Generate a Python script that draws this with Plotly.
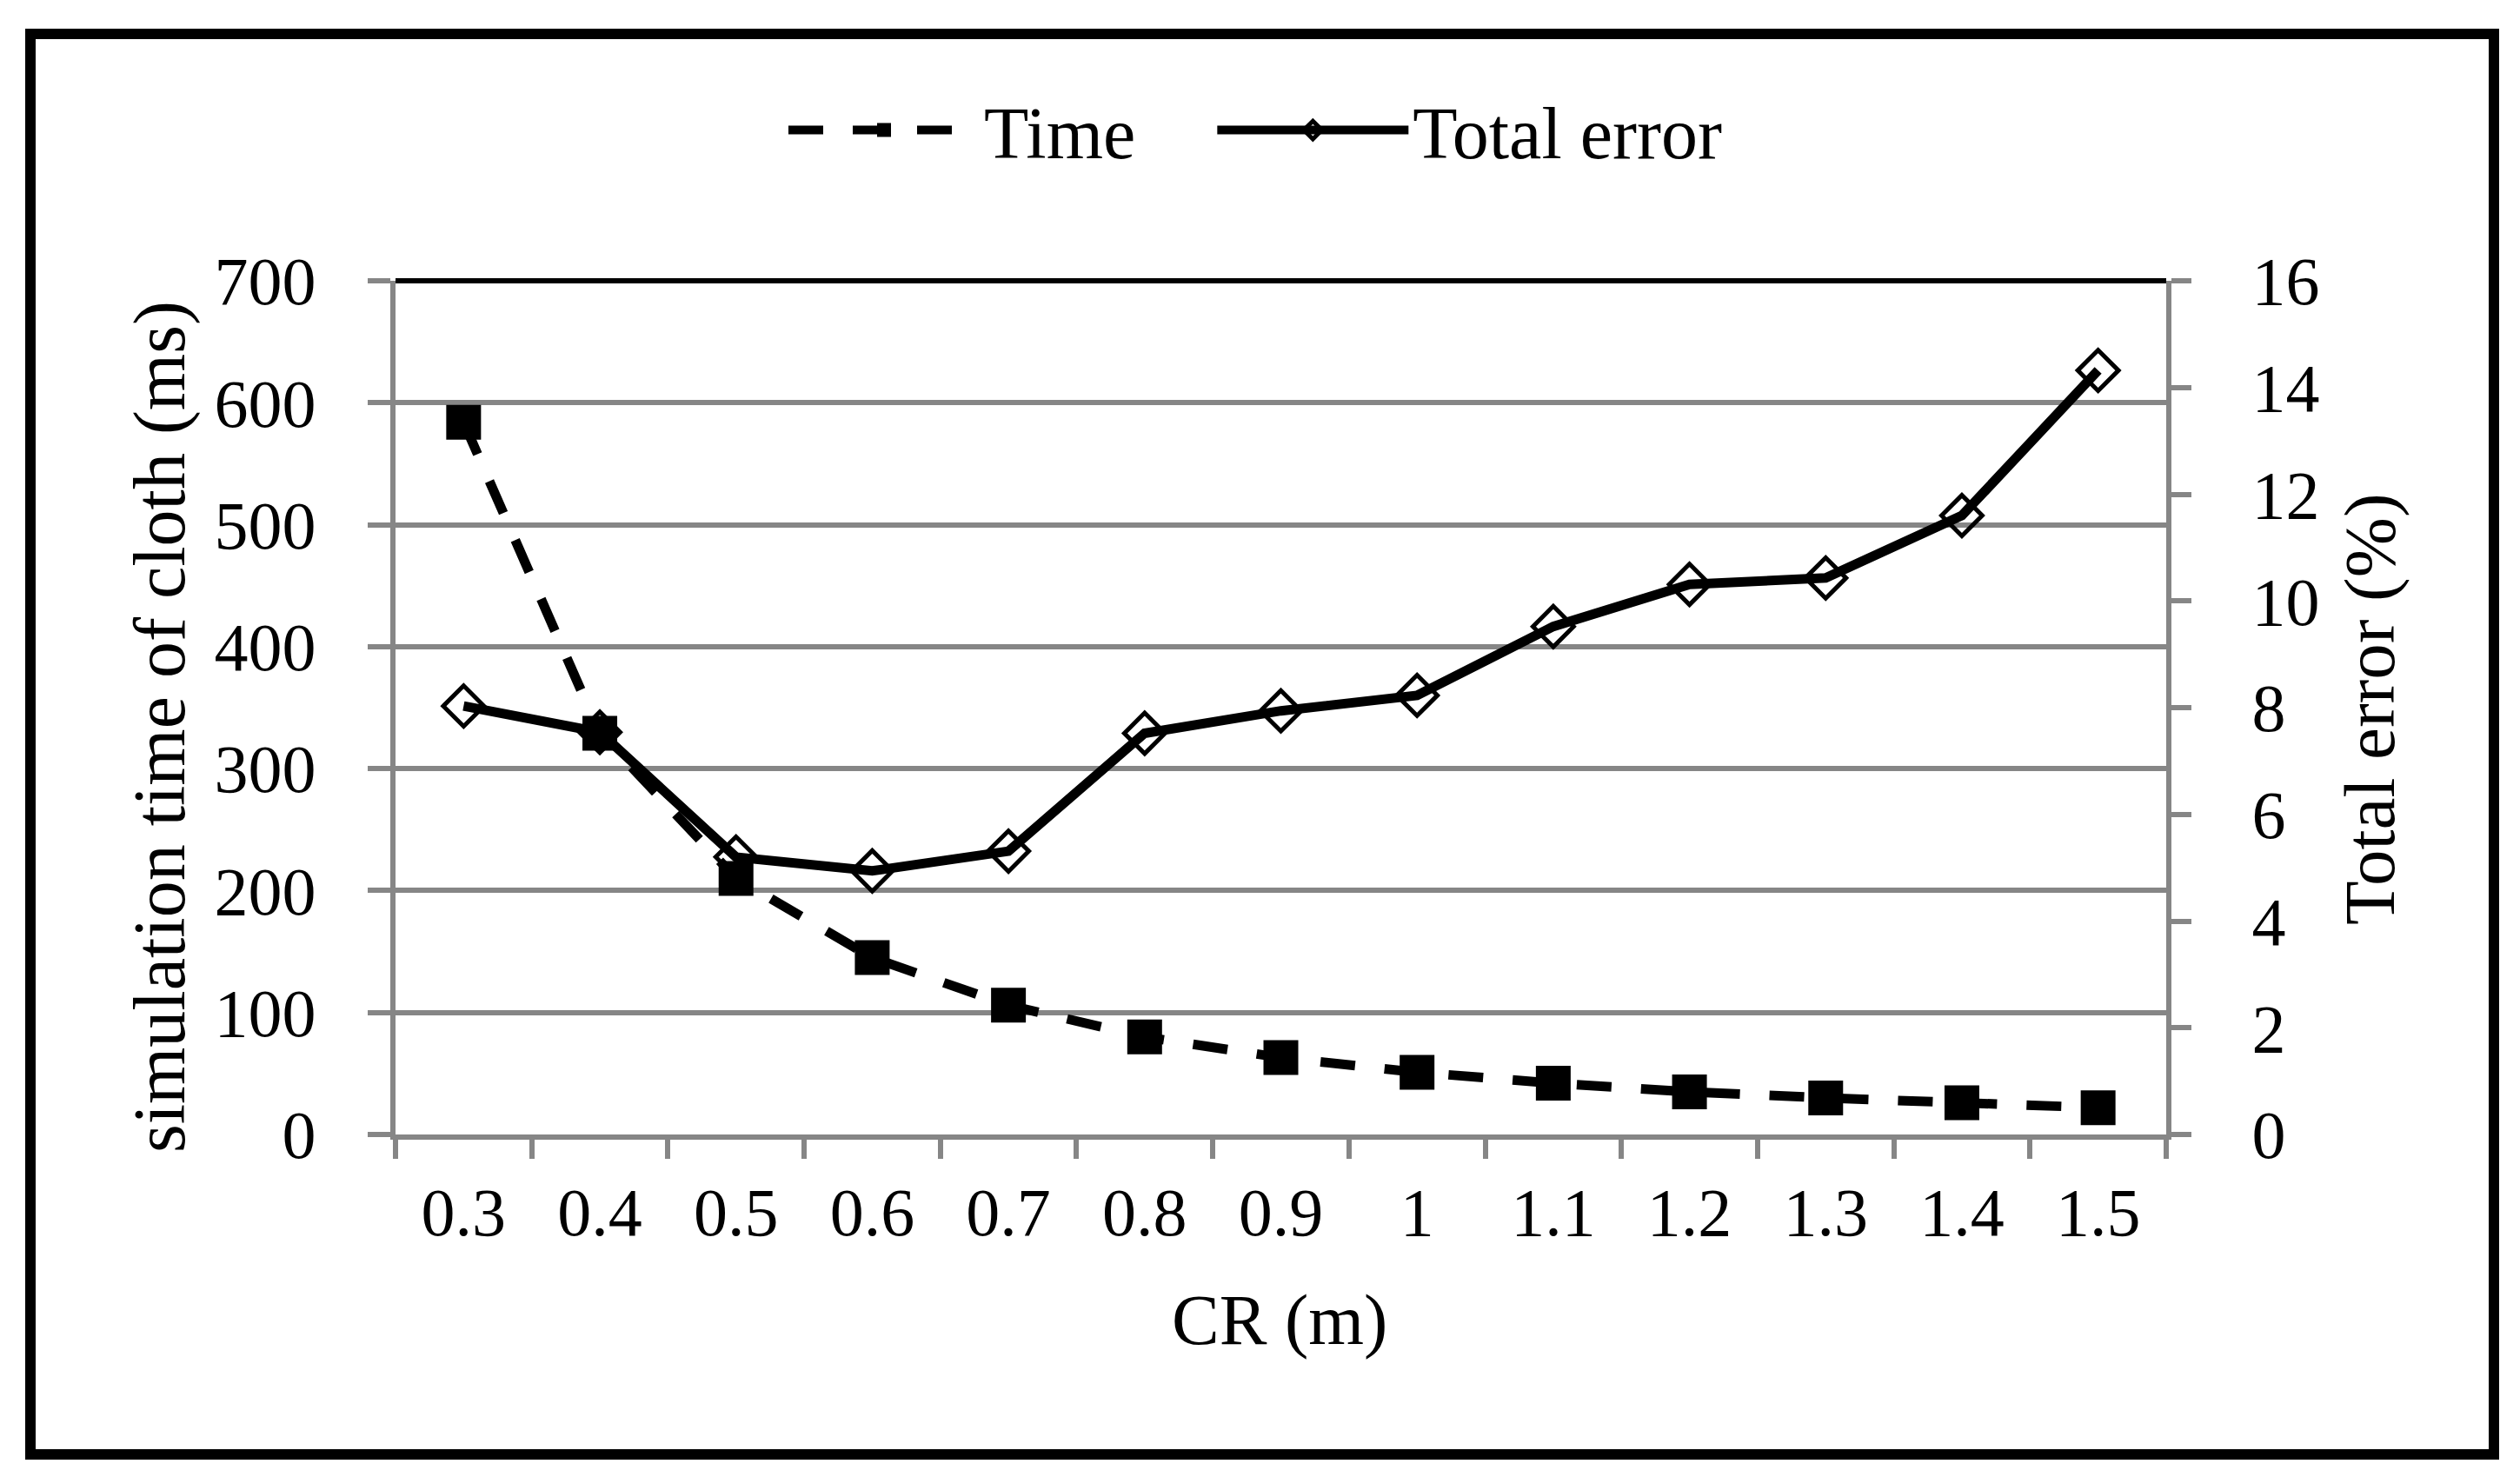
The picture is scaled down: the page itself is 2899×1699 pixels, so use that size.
import plotly.graph_objects as go

# ---- data ----
cr_labels = ["0.3", "0.4", "0.5", "0.6", "0.7", "0.8", "0.9", "1", "1.1", "1.2", "1.3", "1.4", "1.5"]
time_ms = [584, 329, 210, 145, 106, 80, 63, 51, 42, 35, 30, 26, 22]
total_error = [8.03, 7.54, 5.20, 4.94, 5.31, 7.52, 7.94, 8.23, 9.52, 10.31, 10.43, 11.60, 14.32]
left_ticks = [0, 100, 200, 300, 400, 500, 600, 700]
right_ticks = [0, 2, 4, 6, 8, 10, 12, 14, 16]
series_names = ["Time", "Total error"]

# ---- layout geometry (px) ----
W, H = 2899, 1699
L, R, T, B = 447, 415, 315, 402
PW, PH = W - L - R, H - T - B

def px_x(px):
    return (px - L) / PW

def px_y(py):
    return (H - B - py) / PH

FONT = "Liberation Serif, Times New Roman, serif"
GRID = "#868686"
PAD = "\u00a0" * 4  # gap after the first legend entry

fig = go.Figure()
fig.add_trace(go.Scatter(
    x=cr_labels, y=time_ms, name=series_names[0] + PAD, mode="lines+markers",
    line=dict(color="black", width=11, dash="40px,34px"),
    marker=dict(symbol="square", size=40, color="black"),
    yaxis="y",
))
fig.add_trace(go.Scatter(
    x=cr_labels, y=total_error, name=series_names[1], mode="lines+markers",
    line=dict(color="black", width=11),
    marker=dict(symbol="diamond-open", size=36, color="black", line=dict(width=5, color="black")),
    yaxis="y2",
))

fig.update_layout(
    width=W, height=H,
    margin=dict(l=L, r=R, t=T, b=B),
    paper_bgcolor="white", plot_bgcolor="white",
    font=dict(family=FONT, color="black", size=78),
    showlegend=True,
    legend=dict(
        orientation="h", x=px_x(894), xanchor="left", y=px_y(142), yanchor="middle",
        font=dict(family=FONT, size=84, color="black"),
        itemwidth=220, bgcolor="rgba(0,0,0,0)", traceorder="normal",
    ),
    xaxis=dict(
        type="category", range=[-0.5, len(cr_labels) - 0.5],
        tickson="boundaries", ticks="outside", ticklen=22, tickwidth=6, tickcolor=GRID,
        showline=True, linecolor=GRID, linewidth=6, showgrid=False, zeroline=False,
        tickfont=dict(family=FONT, size=78, color="black"), ticklabelstandoff=16,
    ),
    yaxis=dict(
        range=[0, 700], tickvals=left_ticks, showgrid=True, gridcolor=GRID, gridwidth=6,
        showline=True, linecolor=GRID, linewidth=6, zeroline=False,
        ticks="outside", ticklen=26, tickwidth=6, tickcolor=GRID,
        tickfont=dict(family=FONT, size=78, color="black"), ticklabelstandoff=44,
    ),
    yaxis2=dict(
        overlaying="y", side="right", range=[0, 16], tickvals=right_ticks,
        showgrid=False, showline=True, linecolor=GRID, linewidth=6, zeroline=False,
        ticks="outside", ticklen=23, tickwidth=6, tickcolor=GRID,
        tickfont=dict(family=FONT, size=78, color="black"), ticklabelstandoff=54,
    ),
    annotations=[
        dict(text="simulation time of cloth (ms)", textangle=-90, xref="paper", yref="paper",
             x=px_x(176), y=px_y(828), xanchor="center", yanchor="middle", showarrow=False,
             font=dict(family=FONT, size=84, color="black")),
        dict(text="Total error (%)", textangle=-90, xref="paper", yref="paper",
             x=px_x(2718), y=px_y(808), xanchor="center", yanchor="middle", showarrow=False,
             font=dict(family=FONT, size=83, color="black")),
        dict(text="CR (m)", xref="paper", yref="paper",
             x=px_x(1464), y=px_y(1510), xanchor="center", yanchor="middle", showarrow=False,
             font=dict(family=FONT, size=82, color="black")),
    ],
    shapes=[
        dict(type="line", xref="paper", yref="paper", x0=0, x1=1, y0=1, y1=1,
             line=dict(color="black", width=6)),
        dict(type="rect", xref="paper", yref="paper",
             x0=px_x(27), x1=px_x(2861), y0=px_y(1665), y1=px_y(31),
             line=dict(color="black", width=12), fillcolor="rgba(0,0,0,0)", layer="above"),
    ],
)

fig.write_html("out.html")
